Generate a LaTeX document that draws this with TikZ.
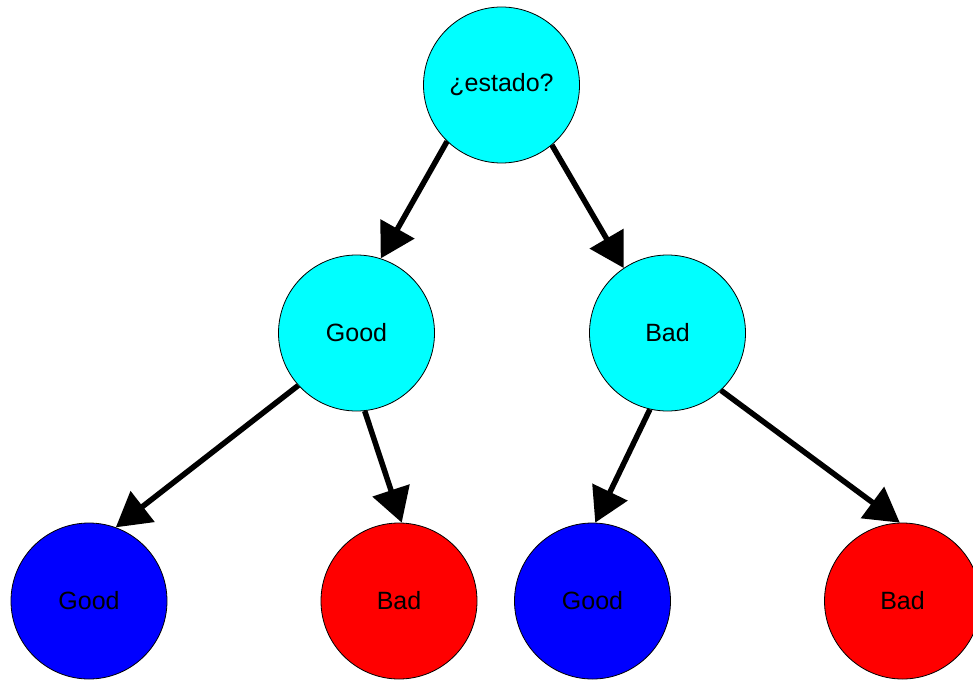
\documentclass[tikz,border=0pt]{standalone}
\usepackage{fontspec}
\setmainfont{Liberation Sans}
\usetikzlibrary{arrows.meta}

\definecolor{aqua}{RGB}{0,255,255}
\definecolor{pureblue}{RGB}{0,0,255}
\definecolor{purered}{RGB}{255,0,0}

\tikzset{
  treenode/.style = {circle, draw=black, line width=0.8pt, inner sep=0pt,
    minimum size=156pt, text centered, font=\fontsize{25}{30}\selectfont},
  branch/.style = {treenode, fill=aqua},
  good/.style = {treenode, fill=pureblue},
  bad/.style = {treenode, fill=purered},
  link/.style 2 args = {edge from parent path={(\tikzparentnode.#1) -- (\tikzchildnode.#2)}}
}

\begin{document}
\begin{tikzpicture}[x=1pt, y=1pt,
                        level 1/.style={sibling distance=311pt, level distance=248pt},
                        level 2/.style={sibling distance=310pt, level distance=268pt},
                        edge from parent/.style={draw, line width=5.5pt,
                          -{Triangle[length=34pt,width=38pt]}}]
\useasboundingbox (0,0) rectangle (973,-679);
\node [branch] (root) at (501.5,-85) {¿estado?}
    child[xshift=10.5pt, link={226}{72}]{ node [branch] (good) {Good}
        child[xshift=-112.5pt, link={222}{70}]{ node [good] (goodgood) {Good}
        }
        child[xshift=-112.5pt, link={276}{88}]{ node [bad] (goodbad) {Bad}
        }
    }
    child[xshift=10.5pt, link={310}{124}]{ node [branch] (bad) {Bad}
        child[xshift=80pt, link={257}{88}]{ node [good] (badgood) {Good}
        }
        child[xshift=80pt, link={313}{92}]{ node [bad] (badbad) {Bad}
        }
    }
;
\end{tikzpicture}
\end{document}
